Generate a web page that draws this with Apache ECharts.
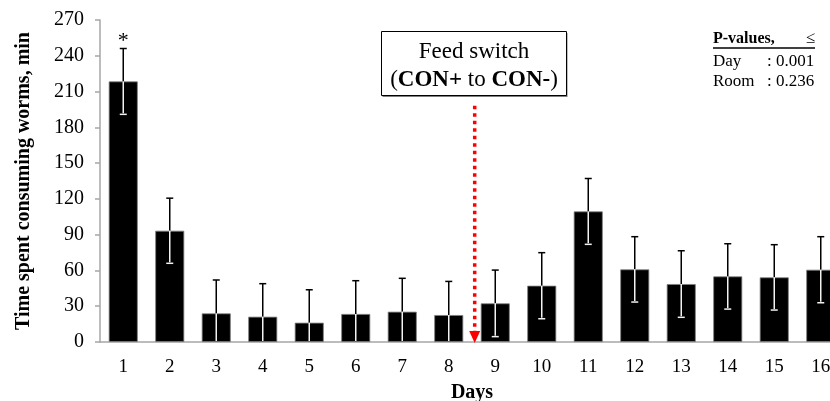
<!DOCTYPE html>
<html>
<head>
<meta charset="utf-8">
<script src="https://cdn.jsdelivr.net/npm/echarts@6/dist/echarts.min.js"></script>
<style>html,body{margin:0;padding:0;background:#fff}#c{width:830px;height:401px}</style>
</head>
<body>
<div id="c"></div>
<script>
const days = ['1','2','3','4','5','6','7','8','9','10','11','12','13','14','15','16'];
const means = [218.5, 93.3, 24.0, 21.2, 16.2, 23.5, 25.4, 22.6, 32.4, 47.2, 109.5, 60.9, 48.6, 55.0, 54.2, 60.6];
const sems = [27.6, 27.3, 28.0, 27.7, 27.6, 27.9, 28.0, 28.2, 27.9, 27.7, 27.6, 27.4, 27.9, 27.4, 27.4, 27.7];
const sig = ['*','','','','','','','','','','','','','','',''];
const yTicks = [0, 30, 60, 90, 120, 150, 180, 210, 240, 270];
const switchAfterDay = 8;
const switchLineTop = 198;

const serif = '"Liberation Serif", "Times New Roman", serif';
const chart = echarts.init(document.getElementById('c'));

chart.setOption({
  animation: false,
  grid: {left: 100, top: 20, right: -14, bottom: 59, containLabel: false, outerBoundsMode: 'none'},
  xAxis: {
    type: 'category',
    data: days,
    name: 'Days',
    nameLocation: 'middle',
    nameGap: 41,
    nameTextStyle: {fontFamily: serif, fontSize: 20, fontWeight: 'bold', color: '#000'},
    axisLine: {lineStyle: {color: '#a6a6a6', width: 1.5}},
    axisTick: {show: false},
    axisLabel: {fontFamily: serif, fontSize: 19, color: '#000', margin: 16}
  },
  yAxis: {
    type: 'value',
    min: 0, max: 270, interval: 30,
    name: 'Time spent consuming worms, min',
    nameLocation: 'middle',
    nameGap: 66,
    nameTextStyle: {fontFamily: serif, fontSize: 20, fontWeight: 'bold', color: '#000'},
    axisLine: {show: true, lineStyle: {color: '#a6a6a6', width: 1.5}},
    axisTick: {show: true, length: 5, lineStyle: {color: '#a6a6a6', width: 1.5}},
    splitLine: {show: false},
    axisLabel: {fontFamily: serif, fontSize: 20, color: '#000', margin: 16,
      formatter: v => yTicks.includes(v) ? String(v) : ''}
  },
  series: [
    {
      type: 'bar',
      data: means,
      barWidth: 29,
      itemStyle: {color: '#000', borderColor: '#7f7f7f', borderWidth: 0.8},
      z: 2
    },
    {
      type: 'custom',
      z: 5,
      clip: true,
      data: means.map((m, i) => [i, m, sems[i]]),
      renderItem: function (params, api) {
        const i = api.value(0), m = api.value(1), s = api.value(2);
        const pm = api.coord([i, m]);
        const ph = api.coord([i, m + s]);
        const pl = api.coord([i, Math.max(m - s, 0)]);
        const cw = 3.5;
        const children = [
          {type: 'line', shape: {x1: pm[0], y1: pm[1], x2: ph[0], y2: ph[1]}, style: {stroke: '#000', lineWidth: 1.5}},
          {type: 'line', shape: {x1: ph[0] - cw, y1: ph[1], x2: ph[0] + cw, y2: ph[1]}, style: {stroke: '#000', lineWidth: 1.5}},
          {type: 'line', shape: {x1: pm[0], y1: pm[1], x2: pl[0], y2: pl[1] - 1}, style: {stroke: '#f2f2f2', lineWidth: 1.5}}
        ];
        if (m - s > 0) {
          children.push({type: 'line', shape: {x1: pl[0] - cw, y1: pl[1], x2: pl[0] + cw, y2: pl[1]}, style: {stroke: '#f2f2f2', lineWidth: 1.5}});
        }
        const t = sig[params.dataIndex];
        if (t) {
          children.push({type: 'text', x: ph[0], y: ph[1] - 18, style: {text: t, fontFamily: serif, fontSize: 22, fill: '#000', textAlign: 'center', textVerticalAlign: 'top'}});
        }
        return {type: 'group', children: children};
      }
    },
    {
      type: 'custom',
      z: 6,
      clip: false,
      data: [[switchAfterDay - 1, switchLineTop]],
      renderItem: function (params, api) {
        const i = api.value(0), top = api.value(1);
        const w = api.size([1, 0])[0];
        const p0 = api.coord([i, top]);
        const p1 = api.coord([i, 0]);
        const x = p0[0] + w * 0.558;
        return {type: 'group', children: [
          {type: 'line', shape: {x1: x, y1: p0[1], x2: x, y2: p1[1] - 11}, style: {stroke: '#ff0000', lineWidth: 3.5, lineDash: [3.5, 4]}},
          {type: 'polygon', shape: {points: [[x - 5.5, p1[1] - 11], [x + 5.5, p1[1] - 11], [x, p1[1] + 1]]}, style: {fill: '#ff0000'}}
        ]};
      }
    }
  ],
  graphic: [
    {type: 'rect', shape: {x: 382.5, y: 33, width: 185, height: 64}, style: {fill: '#7f7f7f'}, z: 10},
    {type: 'rect', shape: {x: 381.5, y: 31.5, width: 185, height: 64}, style: {fill: '#fff', stroke: '#000', lineWidth: 1}, z: 11},
    {type: 'text', x: 474, y: 52, z: 12, style: {text: 'Feed switch', fontFamily: serif, fontSize: 23, fill: '#000', textAlign: 'center', textVerticalAlign: 'middle'}},
    {type: 'text', x: 474, y: 80, z: 12, style: {
      text: '{n|(}{b|CON+}{n| to }{b|CON-}{n|)}',
      textAlign: 'center', textVerticalAlign: 'middle',
      rich: {
        n: {fontFamily: serif, fontSize: 23, fill: '#000', color: '#000'},
        b: {fontFamily: serif, fontSize: 23, fontWeight: 'bold', fill: '#000', color: '#000'}
      }}},
    {type: 'text', x: 713, y: 39, z: 12, style: {text: 'P-values,', fontFamily: serif, fontSize: 16, fontWeight: 'bold', fill: '#000', textVerticalAlign: 'middle'}},
    {type: 'text', x: 815, y: 39, z: 12, style: {text: '≤', fontFamily: serif, fontSize: 17, fill: '#000', textAlign: 'right', textVerticalAlign: 'middle'}},
    {type: 'line', shape: {x1: 713, y1: 48, x2: 815, y2: 48}, style: {stroke: '#000', lineWidth: 1.3}, z: 12},
    {type: 'text', x: 713, y: 62, z: 12, style: {text: 'Day', fontFamily: serif, fontSize: 17, fill: '#000', textVerticalAlign: 'middle'}},
    {type: 'text', x: 767, y: 62, z: 12, style: {text: ': 0.001', fontFamily: serif, fontSize: 17, fill: '#000', textVerticalAlign: 'middle'}},
    {type: 'text', x: 713, y: 82, z: 12, style: {text: 'Room', fontFamily: serif, fontSize: 17, fill: '#000', textVerticalAlign: 'middle'}},
    {type: 'text', x: 767, y: 82, z: 12, style: {text: ': 0.236', fontFamily: serif, fontSize: 17, fill: '#000', textVerticalAlign: 'middle'}}
  ]
});
</script>
</body>
</html>
